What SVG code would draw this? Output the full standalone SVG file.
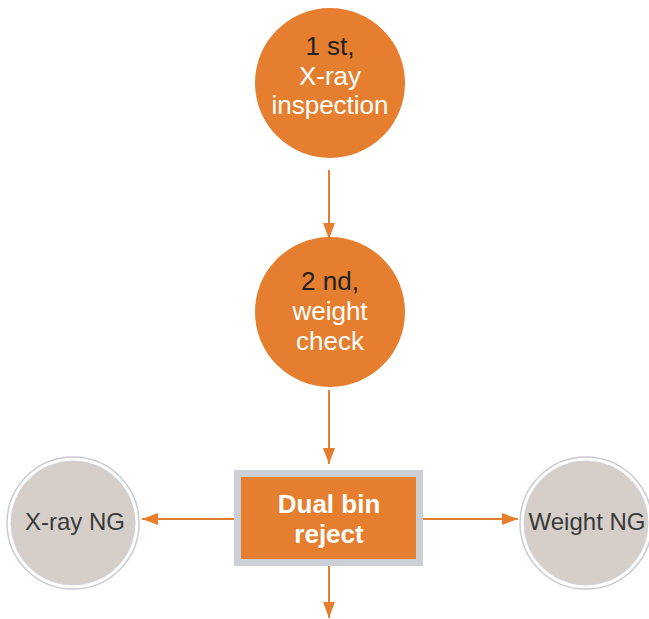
<svg xmlns="http://www.w3.org/2000/svg" width="649" height="619" viewBox="0 0 649 619">
<style>
.step{fill:#e57e2e}
.t{font-family:"Liberation Sans",Arial,sans-serif;font-size:26px;text-anchor:middle}
.w{fill:#ffffff}
.k{fill:#222222}
.b{font-weight:bold}
.ng{font-family:"Liberation Sans",Arial,sans-serif;font-size:24px;text-anchor:middle;fill:#3a3a3a}
.ring{fill:#ffffff;stroke:#c9ccd3;stroke-width:1.5}
.ngfill{fill:#d6cec9;stroke:#cfd2d8;stroke-width:1}
.c{stroke:#e57e2e;stroke-width:2;fill:none;marker-end:url(#ah)}
</style>
<defs>
<marker id="ah" markerWidth="16" markerHeight="12" refX="16" refY="6" orient="auto" markerUnits="userSpaceOnUse">
<path d="M0,0 L16,6 L0,12 Z" fill="#e57e2e"/>
</marker>
</defs>
<rect width="649" height="619" fill="#ffffff"/>
<g id="connectors">
<line class="c" x1="329" y1="170" x2="329" y2="239"/>
<line class="c" x1="329" y1="390" x2="329" y2="464"/>
<line class="c" x1="329" y1="566" x2="329" y2="618"/>
<line class="c" x1="234" y1="519" x2="142" y2="519"/>
<line class="c" x1="423" y1="519" x2="518" y2="519"/>
</g>
<g id="step1">
<circle class="step" cx="330" cy="83" r="75"/>
<text class="t k" x="330" y="55">1 st,</text>
<text class="t w" x="330" y="85">X-ray</text>
<text class="t w" x="330" y="114">inspection</text>
</g>
<g id="step2">
<circle class="step" cx="330" cy="312" r="75"/>
<text class="t k" x="330" y="290">2 nd,</text>
<text class="t w" x="330" y="320">weight</text>
<text class="t w" x="330" y="350">check</text>
</g>
<g id="reject">
<rect x="234" y="470" width="189" height="96" fill="#ccd0d6"/>
<rect class="step" x="241" y="477" width="175" height="82"/>
<text class="t w b" x="329" y="513">Dual bin</text>
<text class="t w b" x="329" y="543">reject</text>
</g>
<g id="xrayng">
<circle class="ring" cx="73" cy="523" r="66"/>
<circle class="ngfill" cx="73" cy="523" r="62"/>
<text class="ng" x="75" y="530">X-ray NG</text>
</g>
<g id="weightng">
<circle class="ring" cx="586" cy="523" r="66"/>
<circle class="ngfill" cx="586" cy="523" r="62"/>
<text class="ng" x="587" y="530">Weight NG</text>
</g>
</svg>
